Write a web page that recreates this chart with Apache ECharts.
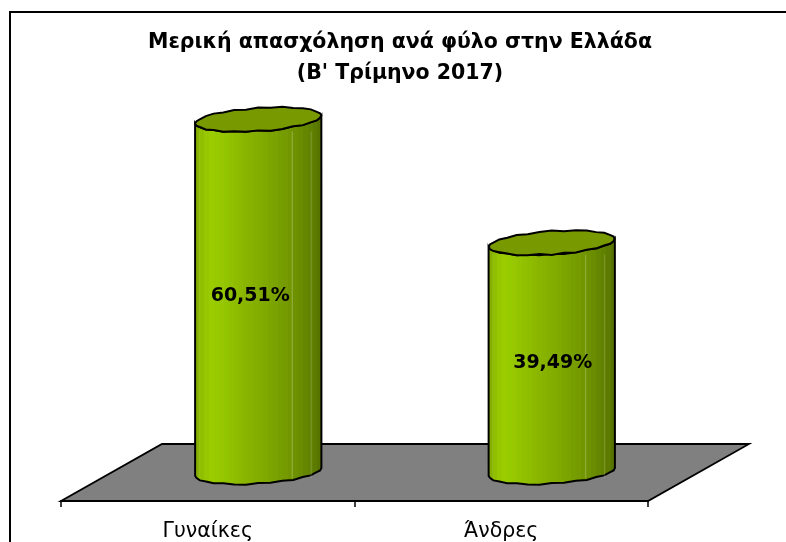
<!DOCTYPE html>
<html><head><meta charset="utf-8">
<style>html,body{margin:0;padding:0;background:#fff}#c{width:786px;height:542px}</style>
<script src="https://cdn.jsdelivr.net/npm/echarts@6/dist/echarts.min.js"></script>
</head><body><div id="c"></div>
<script>
const categories = ['Γυναίκες', 'Άνδρες'];
const shares = [60.51, 39.49];
const titleLines = ['Μερική απασχόληση ανά φύλο στην Ελλάδα', "(Β' Τρίμηνο 2017)"];

const DEPTH_X = 101, DEPTH_Y = 57;
const FONT = '"DejaVu Sans", sans-serif';
const wobble = [0.5,-0.4,0.7,-0.3,0.5,-0.7,0.4,0.8,-0.6,0.3,-0.4,0.7,-0.5,0.6,-0.8,0.4,0.7,-0.3,-0.6,0.5,0.8,-0.4,0.3,-0.7,0.5,-0.3,0.6,-0.5,0.4,0.7,-0.6,0.3];
const bandStops = [[0,'#86b000'],[0.05,'#93c400'],[0.12,'#9acd00'],[0.25,'#92c200'],[0.4,'#88b400'],[0.55,'#7fa800'],[0.7,'#749a00'],[0.82,'#688a00'],[0.92,'#5d7c00'],[1,'#516c00']];
const highlights = [[0.03,0.13,0.12],[0.77,0.92,0.35],[0.92,0.95,0.25]];
const labelNudge = [[-8,0],[1,6]];

function rim(cx, cy, rx, t, i) {
  const k = wobble[i % wobble.length];
  return [cx + (rx + k * 0.3) * Math.cos(t), cy + (11.5 + k) * Math.sin(t) - 4 * Math.cos(t)];
}
function bandedGradient() {
  const stops = [];
  const steps = 26;
  const col = echarts.color;
  for (let i = 0; i < steps; i++) {
    const a = i / steps, b = (i + 1) / steps;
    let j = 0;
    while (j < bandStops.length - 2 && bandStops[j + 1][0] <= a) j++;
    const f = (a - bandStops[j][0]) / (bandStops[j + 1][0] - bandStops[j][0]);
    const c = col.lerp(f, [bandStops[j][1], bandStops[j + 1][1]]);
    stops.push({offset: a, color: c}, {offset: b, color: c});
  }
  return new echarts.graphic.LinearGradient(0, 0, 1, 0, stops);
}

const option = {
  animation: false,
  backgroundColor: '#fff',
  title: {
    text: titleLines.join('\n'), left: 395, top: 22, textAlign: 'center',
    textStyle: {fontFamily: FONT, fontWeight: 'bold', fontSize: 20.5, lineHeight: 31, color: '#000'}
  },
  graphic: [{type: 'rect', silent: true, z: -10, shape: {x: 10, y: 12, width: 790, height: 545},
    style: {fill: 'none', stroke: '#000', lineWidth: 2}}],
  grid: {left: 61, top: 90.3, width: 587, height: 411},
  xAxis: {
    type: 'category', data: categories, z: 5,
    axisLine: {lineStyle: {color: '#000', width: 2}},
    axisTick: {show: true, length: 6, lineStyle: {color: '#000', width: 1.5}},
    axisLabel: {fontFamily: FONT, fontSize: 20.5, color: '#000', margin: 20}
  },
  yAxis: {type: 'value', min: 0, max: 70, show: false, splitLine: {show: false}},
  series: [
    {
      type: 'custom', z: 1, silent: true, data: [0],
      encode: {x: -1, y: -1},
      renderItem(params) {
        const g = params.coordSys, bottom = g.y + g.height;
        return {type: 'polygon', shape: {points: [
          [g.x, bottom], [g.x + DEPTH_X, bottom - DEPTH_Y],
          [g.x + g.width + DEPTH_X, bottom - DEPTH_Y], [g.x + g.width, bottom]]},
          style: {fill: '#808080', stroke: '#000', lineWidth: 1.8}};
      }
    },
    {
      type: 'custom', z: 3, silent: true,
      data: shares.map((v, i) => [i, v]),
      encode: {x: 0, y: 1},
      renderItem(params, api) {
        const i = params.dataIndex;
        const base = api.coord([api.value(0), 0]);
        const top = api.coord([api.value(0), api.value(1)]);
        const cx = base[0] + DEPTH_X / 2, by = base[1] - DEPTH_Y / 2 - 0.5;
        const ty = top[1] - DEPTH_Y / 2 + 2;
        const rx = api.size([1, 0])[0] * 0.2145;
        const n = wobble.length;
        const body = [], cap = [];
        for (let k = 0; k <= n / 2; k++) body.push(rim(cx, by, rx, Math.PI - k * 2 * Math.PI / n, k));
        for (let k = 0; k <= n / 2; k++) body.push(rim(cx, ty, rx, k * 2 * Math.PI / n, k));
        for (let k = 0; k < n; k++) cap.push(rim(cx, ty, rx, k * 2 * Math.PI / n, k + (i ? 5 : 0)));
        const kids = [
          {type: 'polygon', shape: {points: body}, style: {fill: bandedGradient(), stroke: '#000', lineWidth: 2}}
        ];
        highlights.forEach(h => {
          const x = cx - rx + 2 * rx * h[0];
          kids.push({type: 'line', shape: {x1: x, y1: ty + 12, x2: x, y2: by + 6},
            style: {stroke: '#fff', lineWidth: 0.8, opacity: h[2]}});
        });
        kids.push({type: 'polygon', shape: {points: cap}, style: {fill: '#789a00', stroke: '#000', lineWidth: 2}});
        kids.push({type: 'text', style: {
          x: cx + labelNudge[i][0], y: (by + ty) / 2 + labelNudge[i][1],
          text: api.value(1).toFixed(2).replace('.', ',') + '%',
          align: 'center', verticalAlign: 'middle', fill: '#000',
          font: 'bold 19px ' + FONT}});
        return {type: 'group', children: kids};
      }
    }
  ]
};
const chart = echarts.init(document.getElementById('c'), null, {renderer: 'canvas'});
chart.setOption(option);
</script></body></html>
